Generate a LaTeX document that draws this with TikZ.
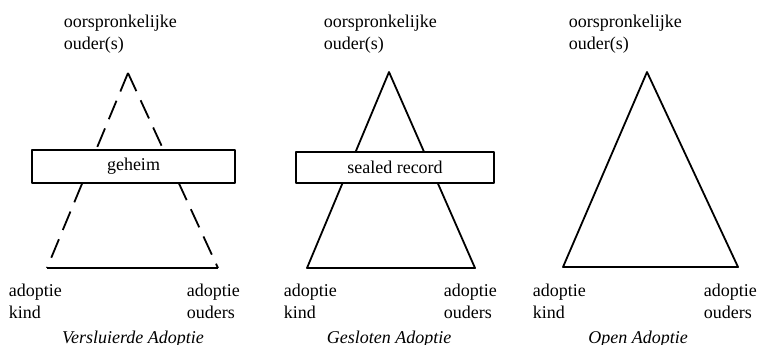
\documentclass[tikz,border=0pt]{standalone}
\usepackage{fontspec}
\setmainfont{Liberation Serif}
\begin{document}
\begin{tikzpicture}[x=0.5pt,y=-0.5pt,line width=0.9pt,line join=round,
  lbl/.style={anchor=north west,align=left,inner sep=0pt,font=\fontsize{9}{11}\selectfont},
  caption/.style={anchor=base,inner sep=0pt,font=\fontsize{9}{11}\selectfont\itshape},
  seal/.style={draw,fill=white,inner sep=0pt,font=\fontsize{9}{11}\selectfont},
  veil/.style={dash pattern=on 10pt off 5pt}]
\useasboundingbox (0,0) rectangle (758,344);
% Versluierde Adoptie
\coordinate (top1) at (128,73);
\coordinate (kind1) at (47,268);
\coordinate (ouders1) at (218,268);
\draw[veil] (top1) -- (kind1);
\draw[veil] (top1) -- (ouders1);
\draw (kind1) -- (ouders1);
\node[seal,minimum width=101.5pt,minimum height=16.5pt] (geheim) at (133.5,166.5) {geheim};
\node[lbl] (oud1) at (63,14) {oorspronkelijke\\ouder(s)};
\node[lbl] (kin1) at (8,283) {adoptie\\kind};
\node[lbl] (ado1) at (186,283) {adoptie\\ouders};
\node[caption] (cap1) at (133,343) {Versluierde Adoptie};
% Gesloten Adoptie
\coordinate (top2) at (389,72);
\coordinate (kind2) at (307,268);
\coordinate (ouders2) at (475,268);
\draw (top2) -- (kind2) -- (ouders2) -- cycle;
\node[seal,minimum width=99pt,minimum height=15.5pt] (sealed) at (395,167.5) {sealed record};
\node[lbl] (oud2) at (323,14) {oorspronkelijke\\ouder(s)};
\node[lbl] (kin2) at (283,283) {adoptie\\kind};
\node[lbl] (ado2) at (443,283) {adoptie\\ouders};
\node[caption] (cap2) at (389,343) {Gesloten Adoptie};
% Open Adoptie
\coordinate (top3) at (647,72);
\coordinate (kind3) at (563,267);
\coordinate (ouders3) at (738,267);
\draw (top3) -- (kind3) -- (ouders3) -- cycle;
\node[lbl] (oud3) at (568,14) {oorspronkelijke\\ouder(s)};
\node[lbl] (kin3) at (532,283) {adoptie\\kind};
\node[lbl] (ado3) at (703,283) {adoptie\\ouders};
\node[caption] (cap3) at (638,343) {Open Adoptie};
\end{tikzpicture}
\end{document}
